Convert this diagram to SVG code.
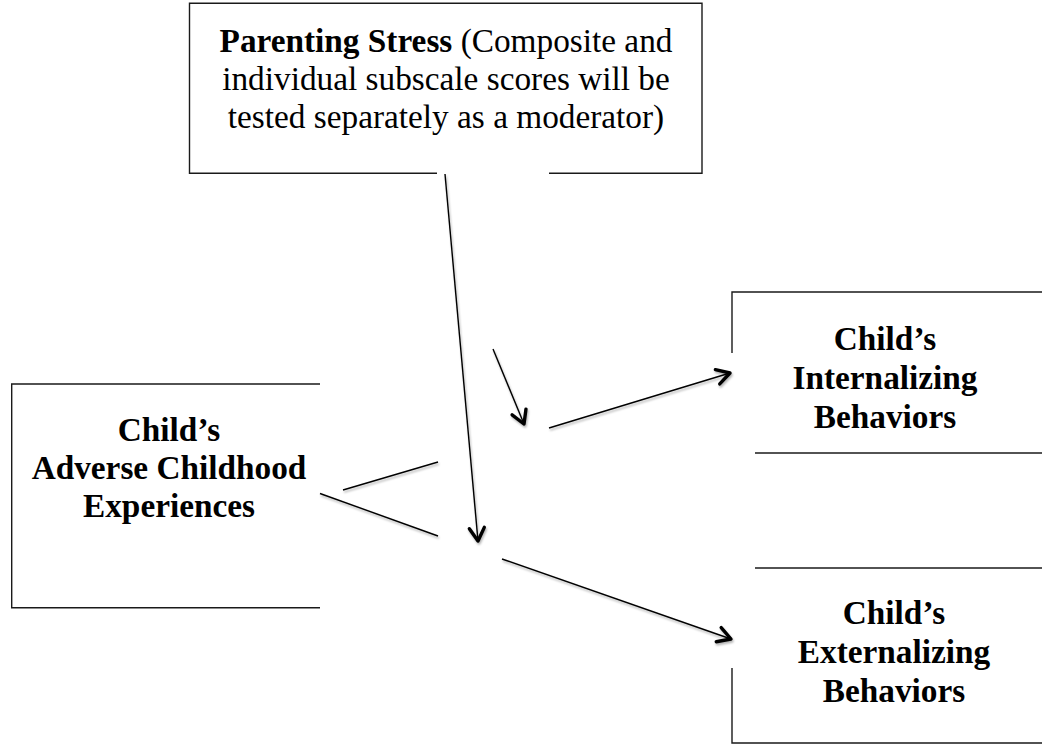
<svg xmlns="http://www.w3.org/2000/svg" width="1042" height="744" viewBox="0 0 1042 744">
<style>
.bd{fill:none;stroke:#1a1a1a;stroke-width:1.4}
.t{font-family:"Liberation Serif","Times New Roman",serif;font-size:33.3px;fill:#000;text-anchor:middle}
.b{font-weight:bold}
.ln{fill:none;stroke:#000;stroke-width:1.4}
</style>
<defs>
<filter id="sh" x="-20%" y="-20%" width="140%" height="140%">
<feDropShadow dx="1" dy="2" stdDeviation="1" flood-color="#000" flood-opacity="0.3"/>
</filter>
<marker id="ah" markerUnits="userSpaceOnUse" viewBox="-16 -10 20 20" refX="0" refY="0" markerWidth="20" markerHeight="20" orient="auto" overflow="visible">
<path d="M-13,-7.5 L0,0 L-13,7.5" fill="none" stroke="#000" stroke-width="3.4" stroke-linecap="round" stroke-linejoin="round"/>
</marker>
</defs>
<rect width="1042" height="744" fill="#fff"/>
<g id="parenting-stress">
<path class="bd" d="M437,173.3 H189.5 V3.3 H702 V173.3 H549"/>
<text class="t" x="446" y="52"><tspan class="b">Parenting Stress</tspan> (Composite and</text>
<text class="t" x="446" y="90">individual subscale scores will be</text>
<text class="t" x="446" y="128">tested separately as a moderator)</text>
</g>
<g id="aces">
<path class="bd" d="M320,384 H11.7 V607.7 H320"/>
<text class="t b" x="169" y="441">Child’s</text>
<text class="t b" x="169" y="479">Adverse Childhood</text>
<text class="t b" x="169" y="517">Experiences</text>
</g>
<g id="internalizing">
<path class="bd" d="M732,353 V292 H1045"/>
<path class="bd" d="M755,453 H1045"/>
<text class="t b" x="885" y="350">Child’s</text>
<text class="t b" x="885" y="389">Internalizing</text>
<text class="t b" x="885" y="428">Behaviors</text>
</g>
<g id="externalizing">
<path class="bd" d="M755,568 H1045"/>
<path class="bd" d="M732,668 V743 H1045"/>
<text class="t b" x="894" y="624">Child’s</text>
<text class="t b" x="894" y="663">Externalizing</text>
<text class="t b" x="894" y="702">Behaviors</text>
</g>
<g id="connectors" filter="url(#sh)">
<line class="ln" x1="343" y1="490" x2="438" y2="462"/>
<line class="ln" x1="320" y1="493.5" x2="438" y2="536"/>
<line class="ln" x1="445" y1="174" x2="478" y2="541" marker-end="url(#ah)"/>
<line class="ln" x1="493" y1="349" x2="524" y2="424" marker-end="url(#ah)"/>
<line class="ln" x1="549" y1="428" x2="730" y2="373" marker-end="url(#ah)"/>
<line class="ln" x1="502" y1="559" x2="731" y2="639" marker-end="url(#ah)"/>
</g>
</svg>
